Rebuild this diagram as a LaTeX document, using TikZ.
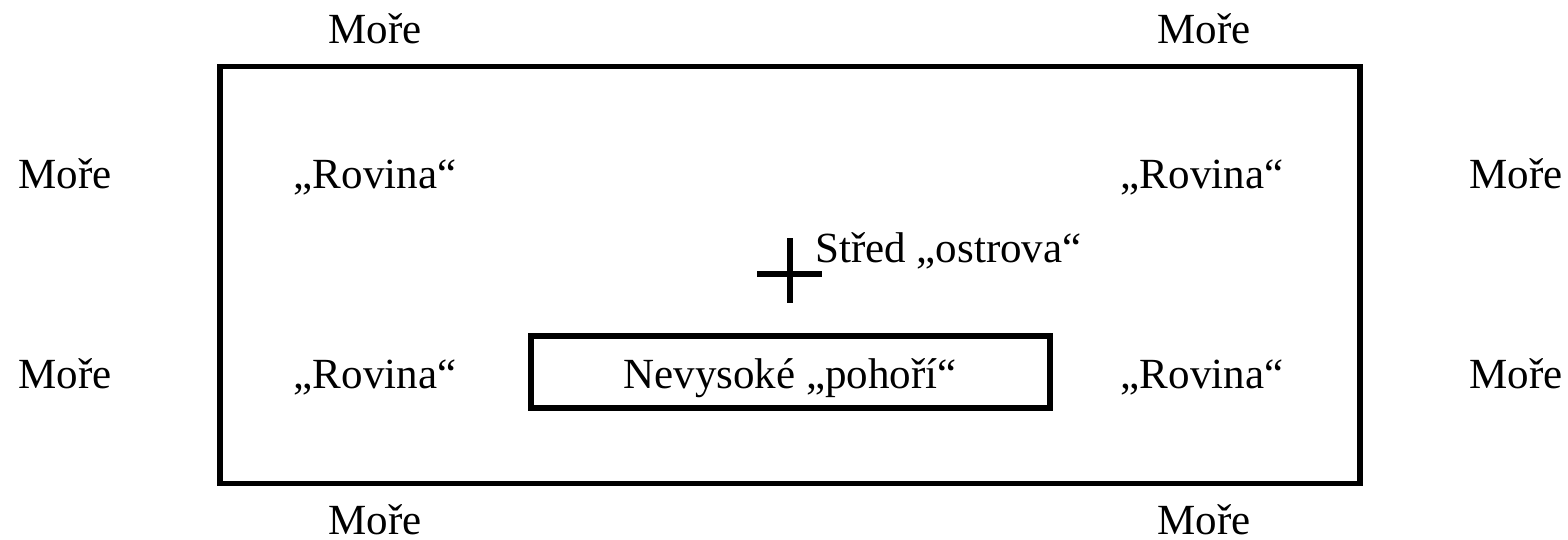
\documentclass[tikz,border=0pt]{standalone}
\usepackage{fontspec}
\setmainfont{Liberation Serif}
\begin{document}
\begin{tikzpicture}[x=1pt,y=-1pt,
  lbl/.style={inner sep=0pt,anchor=base,font=\fontsize{43}{50}\selectfont},
  frame/.style={draw=black,line width=5.5pt},
  crossline/.style={line width=6.5pt}]
\useasboundingbox (0,0) rectangle (1568,539);
% outer island frame
\node[frame,minimum width=1140pt,minimum height=417pt,inner sep=0pt] (island) at (790,275) {};
% inner mountains box
\node[frame,minimum width=519pt,minimum height=72pt,inner sep=0pt] (hory) at (790.5,372) {};
\node[lbl] (horyt) at (790,388) {Nevysoké „pohoří“};
% labels outside
\node[lbl] (m1) at (375,43) {Moře};
\node[lbl] (m2) at (1204,43) {Moře};
\node[lbl] (m3) at (375,534) {Moře};
\node[lbl] (m4) at (1204,534) {Moře};
\node[lbl] (m5) at (65,188) {Moře};
\node[lbl] (m6) at (65,388) {Moře};
\node[lbl] (m7) at (1516,188) {Moře};
\node[lbl] (m8) at (1516,388) {Moře};
% plains
\node[lbl] (r1) at (375,188) {„Rovina“};
\node[lbl] (r2) at (1202,188) {„Rovina“};
\node[lbl] (r3) at (375,388) {„Rovina“};
\node[lbl] (r4) at (1202,388) {„Rovina“};
% centre cross
\coordinate (cw) at (757,274);
\coordinate (ce) at (822,274);
\coordinate (cn) at (790,238);
\coordinate (cs) at (790,303);
\draw[crossline] (cw) -- (ce);
\draw[crossline] (cn) -- (cs);
\node[lbl,anchor=base west] (stred) at (815,262) {Střed „ostrova“};
\end{tikzpicture}
\end{document}
